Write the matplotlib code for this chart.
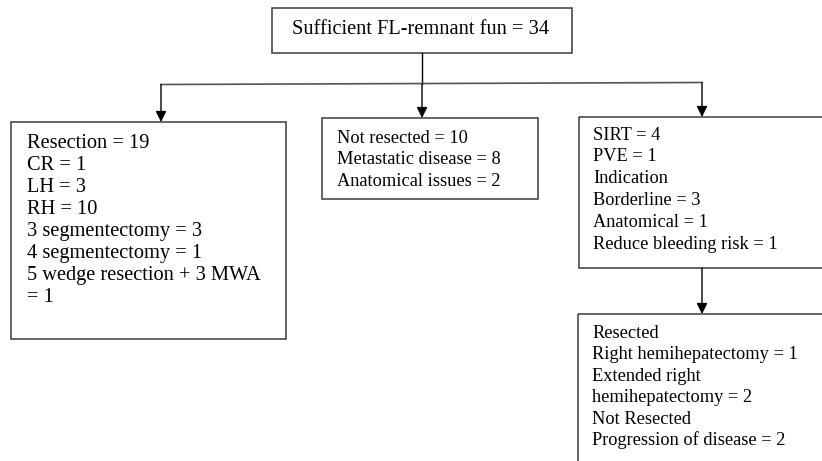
import matplotlib.pyplot as plt
from matplotlib.patches import Rectangle

# box contents
top_text = "Sufficient FL-remnant fun = 34"
left_lines = ["Resection = 19", "CR = 1", "LH = 3", "RH = 10",
              "3 segmentectomy = 3", "4 segmentectomy = 1",
              "5 wedge resection + 3 MWA", "= 1"]
mid_lines = ["Not resected = 10", "Metastatic disease = 8",
             "Anatomical issues = 2"]
right_lines = ["SIRT = 4", "PVE = 1", "Indication", "Borderline = 3",
               "Anatomical = 1", "Reduce bleeding risk = 1"]
bottom_lines = ["Resected", "Right hemihepatectomy = 1", "Extended right",
                "hemihepatectomy = 2", "Not Resected",
                "Progression of disease = 2"]

W, H = 822, 461
fig = plt.figure(figsize=(W / 100, H / 100), dpi=100)
ax = fig.add_axes([0, 0, 1, 1])
ax.set_xlim(0, W)
ax.set_ylim(H, 0)
ax.axis('off')

EDGE = '#3a3a3a'


def box(x0, y0, x1, y1):
    ax.add_patch(Rectangle((x0, y0), x1 - x0, y1 - y0, fill=False,
                           edgecolor=EDGE, lw=1.1, clip_on=True))


def lines(x, y0, items, step, size):
    for i, s in enumerate(items):
        ax.text(x, y0 + i * step, s, ha='left', va='center',
                family='Liberation Serif', fontsize=size, color='black')


def arrow(x, y0, y1):
    ax.annotate('', xy=(x, y1), xytext=(x, y0),
                arrowprops=dict(arrowstyle='-|>', color='black', lw=1.0,
                                mutation_scale=16, shrinkA=0, shrinkB=0))


# top box
box(272, 8, 572, 53)
ax.text(421, 29, top_text, ha='center', va='center',
        family='Liberation Serif', fontsize=14.7, color='black')

# connectors
ax.plot([422, 422], [53, 84], color='black', lw=1.0)
ax.plot([161, 702], [84.5, 82.5], color='#555555', lw=1.2)
arrow(161, 84.5, 122)
arrow(422, 84, 118)
arrow(702, 82.5, 117)

# left box
box(11, 122, 286, 339)
lines(27, 143, left_lines, 22.1, 14.7)

# middle box
box(322, 118, 538, 199)
lines(337, 138, mid_lines, 21.5, 13.2)

# right box (runs off the right edge)
box(579, 117, 840, 268)
lines(593, 135, right_lines, 21.8, 13.2)

arrow(702, 268, 314)

# bottom box (runs off right and bottom)
box(578, 314, 840, 480)
lines(592, 333, bottom_lines, 21.5, 13.2)

fig.savefig('out.png', dpi=100, facecolor='white')
